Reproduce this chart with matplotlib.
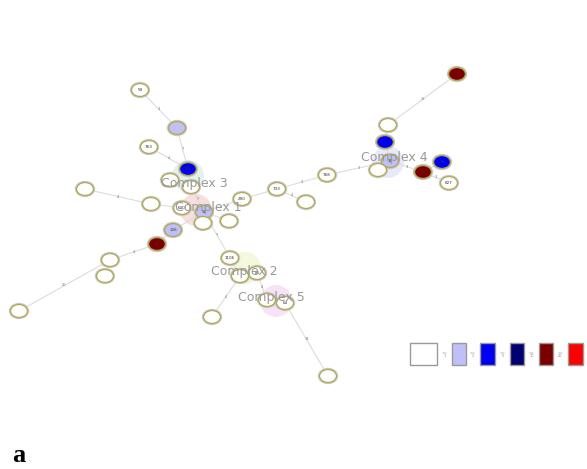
import numpy as np
import matplotlib
matplotlib.use("Agg")
import matplotlib.pyplot as plt
from matplotlib.patches import Ellipse, Rectangle, Circle

#==================================================================== node data
node_x = [140, 177, 149, 188, 170, 191, 85, 151, 182, 204,
          203, 229, 242, 277, 327, 306, 390, 385, 388, 457,
          378, 423, 442, 449, 173, 157, 110, 105, 19, 230,
          240, 257, 212, 267, 285, 328]
node_y = [90, 128, 147, 169, 180, 187, 189, 204, 208, 212,
          223, 221, 199, 189, 175, 202, 161, 142, 125, 74,
          170, 172, 162, 183, 230, 244, 260, 276, 311, 258,
          276, 273, 317, 300, 303, 376]
node_fill = ['w', 'lb', 'w', 'b', 'w', 'w', 'w', 'w', 'w', 'lb',
             'w', 'w', 'w', 'w', 'w', 'w', 'lb', 'b', 'w', 'dr',
             'w', 'dr', 'b', 'w', 'lb', 'dr', 'w', 'w', 'w', 'w',
             'w', 'w', 'w', 'w', 'w', 'w']
node_label = ['59', '', '763', '239', '', '', '', '', '640', '92',
              '', '', '290', '733', '768', '', '18', '', '', '1',
              '', '15', '19', '827', '126', '17', '', '', '', '1106',
              '', '85', '', '', '64', '']

edges = [(0, 1), (1, 3), (2, 3), (3, 5), (4, 5), (5, 9), (6, 7), (7, 8),
         (8, 9), (9, 10), (9, 11), (9, 12), (12, 13), (13, 14), (13, 15),
         (14, 16), (16, 17), (17, 18), (18, 19), (16, 20), (16, 21),
         (21, 22), (21, 23), (9, 24), (24, 25), (25, 26), (26, 27),
         (26, 28), (9, 29), (29, 30), (30, 31), (30, 32), (31, 33),
         (33, 34), (34, 35)]
edge_label = ['4', '7', '4', '', '', '7', '4', '', '', '', '', '', '',
              '4', '4', '3', '', '', '15', '', '3', '', '3', '', '',
              '4', '', '20', '7', '', '', '4', '4', '', '14']

complex_name = ['Complex 1', 'Complex 2', 'Complex 3', 'Complex 4', 'Complex 5']
complex_x = [208, 244, 194, 394, 271]
complex_y = [208, 272, 183, 158, 297]
halo_x = [196, 245, 188, 388, 276]
halo_y = [210, 268, 176, 162, 301]
halo_col = ['#f6d0d0', '#eef6d0', '#d6f0e2', '#dfe2fa', '#f4d8f4']

legend_fill = ['w', 'lb', 'b', 'nv', 'dr', 'r']
legend_text = ['1', '2', '5', '10', '20']

colors = {'w': '#ffffff', 'lb': '#c0c0f8', 'b': '#0000f0',
          'nv': '#000070', 'dr': '#7a0000', 'r': '#ff0000'}

#==================================================================== draw
fig = plt.figure(figsize=(5.87, 4.69), dpi=100)
ax = fig.add_axes([0, 0, 1, 1])
ax.set_xlim(0, 587)
ax.set_ylim(469, 0)
ax.axis('off')

for i in range(len(complex_name)):
  ax.add_patch(Circle((halo_x[i], halo_y[i]), 16, color=halo_col[i],
                      alpha=0.7, lw=0, zorder=1))

for k, (a, b) in enumerate(edges):
  ax.plot([node_x[a], node_x[b]], [node_y[a], node_y[b]],
          color='#dcdcdc', lw=0.8, zorder=2)
  if edge_label[k]:
    mx = 0.5*(node_x[a] + node_x[b])
    my = 0.5*(node_y[a] + node_y[b])
    ax.text(mx, my, edge_label[k], fontsize=2.5, color='#777777',
            ha='center', va='center', zorder=3)

for i in range(len(node_x)):
  ax.add_patch(Ellipse((node_x[i], node_y[i]), 19, 15, facecolor='none',
                       edgecolor='#cccccc', lw=1.0, zorder=3))
  ax.add_patch(Ellipse((node_x[i], node_y[i]), 17, 13,
                       facecolor=colors[node_fill[i]],
                       edgecolor='#b2aa58', lw=1.0, zorder=4))
  if node_label[i]:
    ax.text(node_x[i], node_y[i], node_label[i], fontsize=3,
            color='#333333', ha='center', va='center', zorder=5)

for i in range(len(complex_name)):
  ax.text(complex_x[i], complex_y[i], complex_name[i], fontsize=9,
          color='#999999', ha='center', va='center', zorder=6)

#==================================================================== legend
lx = [410, 452, 480, 510, 539, 568]
lw = [27, 14, 15, 14, 14, 15]
for i in range(len(legend_fill)):
  ax.add_patch(Rectangle((lx[i], 343), lw[i], 22,
                         facecolor=colors[legend_fill[i]],
                         edgecolor='#999999', lw=1.0, zorder=4))
for i in range(len(legend_text)):
  tx = 0.5*(lx[i] + lw[i] + lx[i+1])
  ax.text(tx, 354, '<=\n' + legend_text[i], fontsize=2.5, color='#888888',
          ha='center', va='center', linespacing=1.0)

ax.text(12, 456, 'a', fontsize=19, fontweight='bold',
        family='Liberation Serif', ha='left', va='center')
ax.text(28, 461, '.', fontsize=4, color='#888888')

fig.savefig('out.png', dpi=100)
